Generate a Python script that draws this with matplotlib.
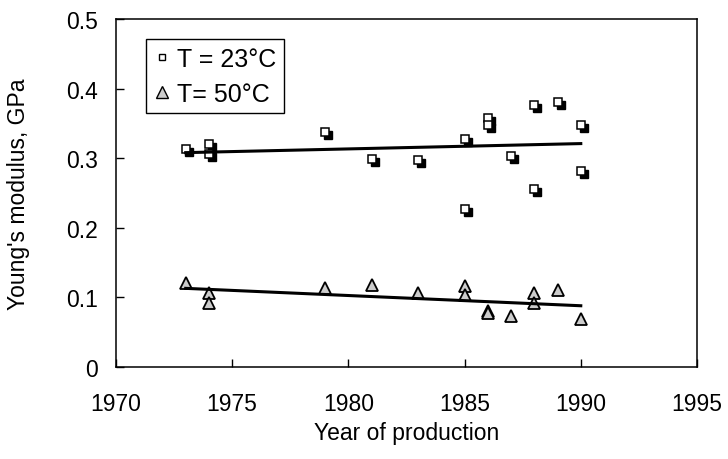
import matplotlib
matplotlib.use("Agg")
import matplotlib.pyplot as plt
import matplotlib.transforms as mtransforms
from matplotlib.lines import Line2D

plt.rcParams['font.family'] = ['Liberation Sans', 'DejaVu Sans']

# Young's modulus readings, T = 23 C
years_23 = [1973, 1974, 1974, 1979, 1981, 1983, 1985, 1985, 1986, 1986,
            1987, 1988, 1988, 1989, 1990, 1990]
modulus_23 = [0.313, 0.321, 0.306, 0.338, 0.299, 0.297, 0.328, 0.227, 0.358, 0.347,
              0.303, 0.377, 0.256, 0.381, 0.347, 0.282]

# T = 50 C
years_50 = [1973, 1974, 1974, 1979, 1981, 1983, 1985, 1985, 1986, 1986,
            1987, 1988, 1988, 1989, 1990]
modulus_50 = [0.120, 0.107, 0.092, 0.114, 0.118, 0.107, 0.116, 0.104, 0.081, 0.078,
              0.073, 0.106, 0.092, 0.110, 0.069]

# trend lines (end points)
trend_years = [1973, 1990]
trend_23 = [0.308, 0.321]
trend_50 = [0.113, 0.088]

xticks = [1970, 1975, 1980, 1985, 1990, 1995]
yticks = [0, 0.1, 0.2, 0.3, 0.4, 0.5]
ytick_labels = ['0', '0.1', '0.2', '0.3', '0.4', '0.5']

fig = plt.figure(figsize=(7.28, 4.60), dpi=100)
ax = fig.add_axes([0.1593, 0.2, 0.7981, 0.7565])

# squares with a black drop shadow
shadow = mtransforms.offset_copy(ax.transData, fig=fig, x=3, y=-3, units='dots')
ax.plot(years_23, modulus_23, linestyle='none', marker='s', markersize=6,
        markerfacecolor='black', markeredgecolor='black', markeredgewidth=1.0,
        transform=shadow, zorder=3)
ax.plot(years_23, modulus_23, linestyle='none', marker='s', markersize=6,
        markerfacecolor='white', markeredgecolor='black', markeredgewidth=1.1,
        zorder=4)

ax.plot(years_50, modulus_50, linestyle='none', marker='^', markersize=9,
        markerfacecolor='#cccccc', markeredgecolor='black', markeredgewidth=1.3,
        zorder=4)

ax.plot(trend_years, trend_23, color='black', linewidth=2.2, zorder=5)
ax.plot(trend_years, trend_50, color='black', linewidth=2.2, zorder=5)

ax.set_xlim(1970, 1995)
ax.set_ylim(0, 0.5)
ax.set_xticks(xticks)
ax.set_yticks(yticks)
ax.set_yticklabels(ytick_labels)
ax.tick_params(direction='in', length=6, width=1, labelsize=16.5)
ax.tick_params(axis='x', pad=18)
ax.tick_params(axis='y', pad=13)
for s in ax.spines.values():
    s.set_linewidth(1.1)

ax.set_xlabel('Year of production', fontsize=16.5)
ax.set_ylabel("Young's modulus, GPa", fontsize=16.5)
ax.xaxis.set_label_coords(0.5, -0.155)
ax.yaxis.set_label_coords(-0.148, 0.5)

handles = [
    Line2D([], [], linestyle='none', marker='s', markersize=5,
           markerfacecolor='white', markeredgecolor='black', markeredgewidth=1.0),
    Line2D([], [], linestyle='none', marker='^', markersize=9,
           markerfacecolor='#cccccc', markeredgecolor='black', markeredgewidth=1.0),
]
leg = ax.legend(handles, ['T = 23\u00b0C', 'T= 50\u00b0C'], loc='upper left',
                bbox_to_anchor=(0.0516, 0.9425), borderaxespad=0, fontsize=18,
                fancybox=False, framealpha=1, edgecolor='black',
                handlelength=0.7, handletextpad=0.25, borderpad=0.3,
                labelspacing=0.45)
leg.get_frame().set_linewidth(1.0)

fig.savefig('out.png', dpi=100)
